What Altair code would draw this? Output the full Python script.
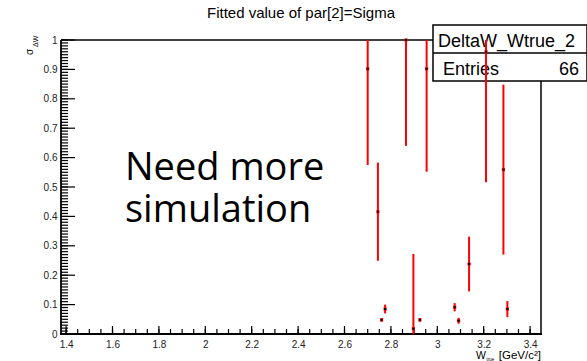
import altair as alt
import pandas as pd

# Fitted sigma per W_true bin (value and fit error)
w_true = [2.700, 2.744, 2.760, 2.775, 2.865, 2.897, 2.925, 2.954, 3.075, 3.092, 3.137, 3.210, 3.285, 3.302]
sigma = [0.902, 0.416, 0.048, 0.085, 1.000, 0.018, 0.048, 0.902, 0.091, 0.045, 0.238, 0.960, 0.559, 0.085]
sigma_err = [0.327, 0.167, 0.006, 0.015, 0.360, 0.254, 0.006, 0.350, 0.014, 0.010, 0.093, 0.444, 0.289, 0.027]

# Axis tick positions
x_major = [1.4, 1.6, 1.8, 2.0, 2.2, 2.4, 2.6, 2.8, 3.0, 3.2, 3.4]
y_major = [0.0, 0.1, 0.2, 0.3, 0.4, 0.5, 0.6, 0.7, 0.8, 0.9, 1.0]
x_minor = [round(1.4 + 0.05 * i, 2) for i in range(41)]
y_minor = [round(0.01 * i, 2) for i in range(101)]

hist_name = "DeltaW_Wtrue_2"
entries = "66"
title_text = "Fitted value of par[2]=Sigma"
note_lines = ["Need more", "simulation"]

W, H = 480, 294
FONT = "Liberation Sans"

xs = alt.Scale(domain=[1.378, 3.447], nice=False, zero=False)
ys = alt.Scale(domain=[0, 1], nice=False, zero=False)

pts = pd.DataFrame({"w": w_true, "s": sigma, "e": sigma_err})
one = pd.DataFrame({"k": [0]})

lab = dict(domain=False, ticks=False, grid=False, title=None, format="~g",
           labelFont=FONT, labelFontSize=10, labelColor="#222",
           labelFlush=False, labelOverlap=False)
x_axis = alt.Axis(values=x_major, labelPadding=5, **lab)
y_axis = alt.Axis(values=y_major, labelPadding=4, **lab)


def X(field):
    return alt.X(field, type="quantitative", scale=xs, axis=x_axis)


def Y(field):
    return alt.Y(field, type="quantitative", scale=ys, axis=y_axis)


# frame lines
frame = alt.layer(
    alt.Chart(one).mark_rule(color="black", strokeWidth=1.8).encode(
        x=alt.value(0), x2=alt.value(0), y=alt.value(0), y2=alt.value(H + 1)),
    alt.Chart(one).mark_rule(color="black", strokeWidth=1.8).encode(
        x=alt.value(-1), x2=alt.value(W + 1), y=alt.value(H), y2=alt.value(H)),
    alt.Chart(one).mark_rule(color="black", strokeWidth=1.5).encode(
        x=alt.value(0), x2=alt.value(W), y=alt.value(0), y2=alt.value(0)),
    alt.Chart(one).mark_rule(color="black", strokeWidth=1.5).encode(
        x=alt.value(W), x2=alt.value(W), y=alt.value(0), y2=alt.value(H)),
)

# inward ticks
xmin_t = alt.Chart(pd.DataFrame({"t": x_minor})).mark_rule(color="black", strokeWidth=1.2).encode(
    x=X("t"), y=alt.value(H), y2=alt.value(H - 5))
xmaj_t = alt.Chart(pd.DataFrame({"t": x_major})).mark_rule(color="black", strokeWidth=1.2).encode(
    x=X("t"), y=alt.value(H), y2=alt.value(H - 8))
ymin_t = alt.Chart(pd.DataFrame({"t": y_minor})).mark_rule(color="black", strokeWidth=1.2).encode(
    y=Y("t"), x=alt.value(0), x2=alt.value(7))
ymaj_t = alt.Chart(pd.DataFrame({"t": y_major})).mark_rule(color="black", strokeWidth=1.2).encode(
    y=Y("t"), x=alt.value(0), x2=alt.value(14))

# statistics box
stats = alt.layer(
    alt.Chart(one).mark_rect(fill="white", stroke="black", strokeWidth=1.5).encode(
        x=alt.value(372), x2=alt.value(526), y=alt.value(-15), y2=alt.value(41)),
    alt.Chart(one).mark_rule(color="black", strokeWidth=1.5).encode(
        x=alt.value(372), x2=alt.value(526), y=alt.value(13), y2=alt.value(13)),
    alt.Chart(one).mark_text(font=FONT, fontSize=18, align="left", baseline="alphabetic").encode(
        x=alt.value(377), y=alt.value(7), text=alt.value(hist_name)),
    alt.Chart(one).mark_text(font=FONT, fontSize=18, align="left", baseline="alphabetic").encode(
        x=alt.value(382), y=alt.value(35), text=alt.value("Entries")),
    alt.Chart(one).mark_text(font=FONT, fontSize=18, align="right", baseline="alphabetic").encode(
        x=alt.value(518), y=alt.value(35), text=alt.value(entries)),
)

# error bars and central values
bars = alt.Chart(pts).transform_calculate(
    lo="datum.s - datum.e", hi="datum.s + datum.e"
).mark_rule(color="#ff0000", strokeWidth=2, clip=True).encode(
    x=X("w"), y=Y("lo"), y2="hi:Q",
)
cross = alt.Chart(pts).mark_square(color="#ff0000", size=10, opacity=1).encode(
    x=X("w"), y=Y("s"))
dots = alt.Chart(pts).mark_square(color="black", size=4, opacity=1).encode(
    x=X("w"), y=Y("s"))

# titles and annotation
texts = alt.layer(
    alt.Chart(one).mark_text(font=FONT, fontSize=15, align="center", baseline="alphabetic").encode(
        x=alt.value(W / 2), y=alt.value(-22), text=alt.value(title_text)),
    alt.Chart(one).mark_text(font=FONT, fontSize=10, angle=270, align="left", baseline="alphabetic").encode(
        x=alt.value(-28.5), y=alt.value(15), text=alt.value("σ")),
    alt.Chart(one).mark_text(font=FONT, fontSize=7, angle=270, align="left", baseline="alphabetic").encode(
        x=alt.value(-23.5), y=alt.value(7), text=alt.value("ΔW")),
    alt.Chart(one).mark_text(font=FONT, fontSize=11.5, align="right", baseline="alphabetic").encode(
        x=alt.value(480), y=alt.value(318.5), text=alt.value("[GeV/c²]")),
    alt.Chart(one).mark_text(font=FONT, fontSize=4.5, align="left", baseline="alphabetic").encode(
        x=alt.value(425.5), y=alt.value(320.5), text=alt.value("true")),
    alt.Chart(one).mark_text(font=FONT, fontSize=10.5, align="right", baseline="alphabetic").encode(
        x=alt.value(425), y=alt.value(318.5), text=alt.value("W")),
    alt.Chart(one).mark_text(font="Open Sans", fontSize=38, align="left", baseline="alphabetic").encode(
        x=alt.value(64), y=alt.value(140), text=alt.value(note_lines[0])),
    alt.Chart(one).mark_text(font="Open Sans", fontSize=38, align="left", baseline="alphabetic").encode(
        x=alt.value(64), y=alt.value(182), text=alt.value(note_lines[1])),
)

chart = alt.layer(
    frame, xmin_t, xmaj_t, ymin_t, ymaj_t, stats, bars, cross, dots, texts
).properties(
    width=W, height=H,
    padding={"left": 61, "top": 40, "right": 46, "bottom": 27},
    autosize=alt.AutoSizeParams(type="none"),
    background="white",
).configure_view(stroke=None)

chart.save("out.html", embed_options={"renderer": "svg", "actions": False})
